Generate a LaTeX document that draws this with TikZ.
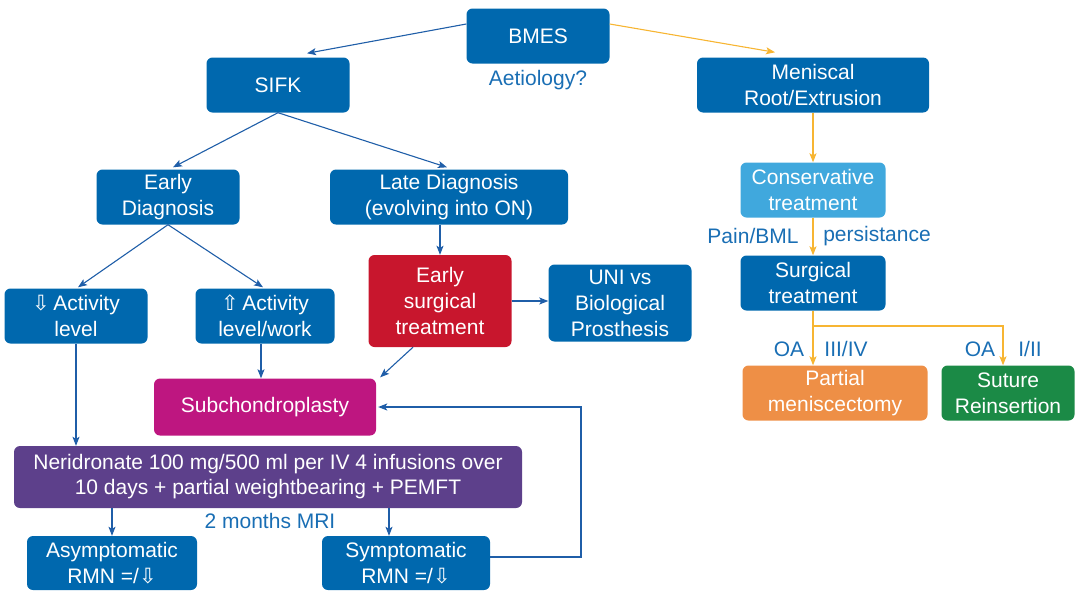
\documentclass[tikz,border=0pt]{standalone}
\usepackage{fontspec}
\setmainfont{Liberation Sans}
\newfontfamily\arrowfont{DejaVu Sans}
\usetikzlibrary{arrows.meta, positioning}
\definecolor{bmblue}{RGB}{0, 104, 174}
\definecolor{bmlight}{RGB}{64, 168, 221}
\definecolor{bmred}{RGB}{200, 22, 45}
\definecolor{bmmagenta}{RGB}{190, 22, 128}
\definecolor{bmpurple}{RGB}{93, 64, 139}
\definecolor{bmorange}{RGB}{238, 143, 70}
\definecolor{bmgreen}{RGB}{27, 138, 70}
\definecolor{lineblue}{RGB}{31, 94, 168}
\definecolor{lineorange}{RGB}{247, 181, 50}
\definecolor{labelblue}{RGB}{25, 110, 180}
\newcommand{\hollowdown}{{\arrowfont\char"21E9}}
\newcommand{\hollowup}{{\arrowfont\char"21E7}}

\begin{document}
\begin{tikzpicture}[x=1pt, y=-1pt,
  every node/.style={font=\fontsize{21}{26}\selectfont},
  box/.style={rounded corners=6pt, fill=bmblue, text=white, align=center, inner sep=0pt},
  lbl/.style={text=labelblue, inner sep=0pt},
  bline/.style={lineblue, line width=1.1pt, -{Stealth[length=9pt, width=7pt, inset=2pt]}},
  oline/.style={lineorange, line width=1.1pt, -{Stealth[length=9pt, width=7pt, inset=2pt]}}]
  \useasboundingbox (0,0) rectangle (1075,592);

  % Top level
  \node[box, minimum width=143, minimum height=55] (bmes) at (538,36) {BMES};
  \node[lbl] (aet) at (538,80) {Aetiology?};
  \node[box, minimum width=143, minimum height=55] (sifk) at (278,85) {SIFK};
  \node[box, minimum width=232, minimum height=55] (men) at (813,85) {Meniscal\\Root/Extrusion};

  % SIFK branch
  \node[box, minimum width=143, minimum height=55] (early) at (168,197) {Early\\Diagnosis};
  \node[box, minimum width=238, minimum height=55] (late) at (449,197) {Late Diagnosis\\(evolving into ON)};
  \node[box, minimum width=143, minimum height=55] (actdown) at (76,316) {\hollowdown\,Activity\\level};
  \node[box, minimum width=139, minimum height=55] (actup) at (265,316) {\hollowup\,Activity\\level/work};
  \node[box, fill=bmred, minimum width=143, minimum height=92] (esurg) at (440,301) {Early\\surgical\\treatment};
  \node[box, minimum width=143, minimum height=77] (uni) at (620,303) {UNI vs\\Biological\\Prosthesis};
  \node[box, fill=bmmagenta, minimum width=222, minimum height=57] (subch) at (265,407) {Subchondroplasty};
  \node[box, fill=bmpurple, minimum width=508, minimum height=62,
    font=\fontsize{21}{25}\selectfont] (neri) at (268,477)
    {Neridronate 100 mg/500 ml per IV 4 infusions over\\10 days + partial weightbearing + PEMFT};
  \node[lbl] (mri) at (270,521) {2 months MRI};
  \node[box, minimum width=170, minimum height=54] (asym) at (112,563) {Asymptomatic\\RMN =/\hollowdown};
  \node[box, minimum width=168, minimum height=54] (sym) at (406,563) {Symptomatic\\RMN =/\hollowdown};

  % Meniscal branch
  \node[box, fill=bmlight, minimum width=145, minimum height=55] (cons) at (813,190) {Conservative\\treatment};
  \node[lbl] (pain) at (753,236) {Pain/BML};
  \node[lbl] (pers) at (877,236) {persistance};
  \node[box, minimum width=145, minimum height=55] (surg) at (813,283) {Surgical\\treatment};
  \node[lbl] (oa1) at (789,349) {OA};
  \node[lbl] (grade1) at (846,349) {III/IV};
  \node[lbl] (oa2) at (980,349) {OA};
  \node[lbl] (grade2) at (1030,349) {I/II};
  \node[box, fill=bmorange, minimum width=185, minimum height=55] (pmen) at (835,393) {Partial\\meniscectomy};
  \node[box, fill=bmgreen, minimum width=133, minimum height=55] (sut) at (1008,393) {Suture\\Reinsertion};

  % Blue connectors
  \draw[bline] ([yshift=12pt]bmes.west) -- ([xshift=29pt, yshift=4pt]sifk.north);
  \draw[bline] (sifk.south) -- ([xshift=5pt, yshift=2pt]early.north);
  \draw[bline] (sifk.south) -- ([xshift=-2pt, yshift=2pt]late.north);
  \draw[bline] (early.south) -- ([xshift=2pt, yshift=1pt]actdown.north);
  \draw[bline] (early.south) -- ([xshift=-2pt, yshift=1pt]actup.north);
  \draw[bline] (esurg.north |- late.south) -- (esurg.north);
  \draw[bline] (esurg.east) -- (esurg.east -| uni.west);
  \draw[bline] ([xshift=-27pt]esurg.south) -- ([xshift=4pt, yshift=1pt]subch.north east);
  \draw[bline] ([xshift=-4pt]actup.south) -- ([xshift=-4pt]actup.south |- subch.north);
  \draw[bline] (actdown.south) -- (actdown.south |- neri.north);
  \draw[bline] (asym.north |- neri.south) -- (asym.north);
  \draw[bline] ([xshift=-17pt]sym.north |- neri.south) -- ([xshift=-17pt]sym.north);
  \coordinate (loop) at (581,407);
  \draw[bline] ([yshift=6pt]sym.east) -| (loop) -- ([xshift=2pt]subch.east);

  % Orange connectors
  \draw[oline] ([yshift=12pt]bmes.east) -- ([xshift=-38pt, yshift=5pt]men.north);
  \draw[oline] (men.south) -- (cons.north);
  \draw[oline] (cons.south) -- (surg.north);
  \coordinate (split) at (813,326);
  \draw[oline] (surg.south) |- ([xshift=-5pt]sut.north |- split) -- ([xshift=-5pt]sut.north);
  \draw[oline] (split) -- (split |- pmen.north);
\end{tikzpicture}
\end{document}
